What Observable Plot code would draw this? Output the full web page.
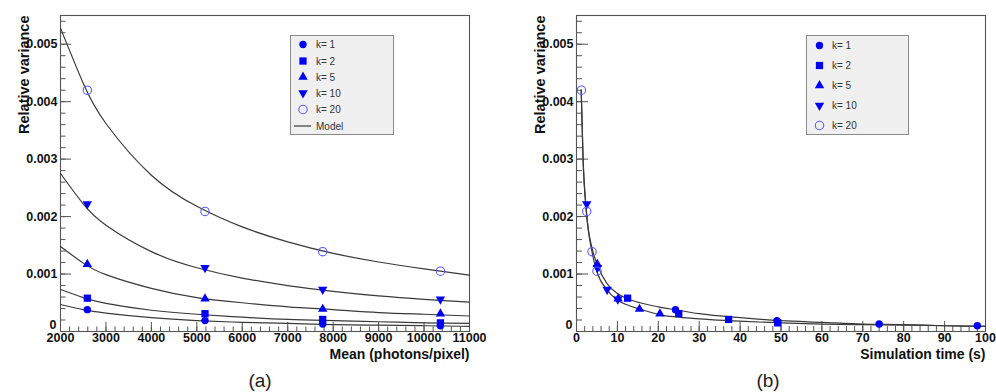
<!DOCTYPE html>
<html><head><meta charset="utf-8">
<script src="https://cdn.jsdelivr.net/npm/d3@7"></script>
<script src="https://cdn.jsdelivr.net/npm/@observablehq/plot@0.6"></script>
<style>
body{margin:0;background:#fff;}
#wrap{position:relative;width:996px;height:392px;overflow:hidden;font-family:"Liberation Sans",Arial,sans-serif;background:#fff;}
#row{display:flex;}
#row > div{width:498px;height:392px;}
.cap{position:absolute;font-size:19px;color:#222;transform:translate(-50%,-50%);line-height:1;}
.legend{position:absolute;}
</style></head>
<body><div id="wrap"><div id="row"><div id="pa"></div><div id="pb"></div></div></div>
<script>
// ---------- data ----------
const kLabels = ["k= 1", "k= 2", "k= 5", "k= 10", "k= 20"];
const meanPhotons = [2590, 5180, 7770, 10360];
const relVarK1  = [0.00038, 0.00019, 0.00013, 0.00010];
const relVarK2  = [0.00058, 0.00031, 0.00021, 0.00015];
const relVarK5  = [0.00117, 0.00057, 0.00039, 0.00031];
const relVarK10 = [0.00222, 0.00111, 0.00073, 0.00056];
const relVarK20 = [0.00420, 0.00209, 0.00139, 0.00105];

const simTimeK1  = [24.2, 49.0, 74.0, 98.0];
const simTimeK2  = [12.5, 25.0, 37.2, 49.2];
const simTimeK5  = [5.1, 10.2, 15.4, 20.4];
const simTimeK10 = [2.5, 5.1, 7.5, 10.1];
const simTimeK20 = [1.2, 2.5, 3.8, 5.0];

// model curves, panel (a)
const modelMeanX = [2000, 2500, 3000, 4000, 5000, 6000, 7000, 8000, 9000, 10000, 11000];
const modelK1  = [0.00047, 0.00038, 0.00032, 0.00024, 0.00019, 0.00016, 0.00014, 0.00012, 0.00011, 0.00010, 0.00009];
const modelK2  = [0.00073, 0.00059, 0.00049, 0.00037, 0.00030, 0.00025, 0.00021, 0.00019, 0.00017, 0.00015, 0.00014];
const modelK5  = [0.00148, 0.00119, 0.00099, 0.00075, 0.00059, 0.00050, 0.00043, 0.00038, 0.00033, 0.00030, 0.00027];
const modelK10 = [0.00275, 0.00222, 0.00185, 0.00139, 0.00111, 0.00093, 0.00080, 0.00070, 0.00062, 0.00056, 0.00051];
const modelK20 = [0.00528, 0.00432, 0.00362, 0.00272, 0.00218, 0.00182, 0.00156, 0.00136, 0.00121, 0.00109, 0.00098];

// model curves, panel (b)
const modelTimeUpperX = [1.15, 1.6, 2.4, 3.8, 5, 7.5, 10, 12.5, 15.5, 20, 24, 30, 40, 50, 60, 70, 80, 90, 100];
const modelTimeUpper  = [0.00420, 0.00305, 0.00210, 0.00145, 0.00118, 0.00083, 0.00066, 0.00057, 0.00050, 0.00043, 0.00038, 0.00031, 0.00024, 0.00019, 0.00016, 0.00013, 0.00012, 0.00010, 0.00009];
const modelTimeLowerX = [1.15, 1.6, 2.4, 3.8, 5, 7.5, 10, 12.5, 15.5, 20.4, 25, 30, 37, 50, 60, 70, 80, 90, 100];
const modelTimeLower  = [0.00420, 0.00300, 0.00210, 0.00138, 0.00104, 0.00072, 0.00055, 0.00046, 0.00039, 0.00029, 0.00025, 0.00022, 0.00019, 0.00015, 0.00013, 0.00012, 0.00011, 0.00010, 0.00009];

// ticks
const yTicksMajor = [0, 0.001, 0.002, 0.003, 0.004, 0.005];
const yTicksMinor = d3.range(0, 28).map(i => i * 0.0002);
const xTicksAMajor = [2000, 3000, 4000, 5000, 6000, 7000, 8000, 9000, 10000, 11000];
const xTicksAMinor = d3.range(2000, 11001, 200);
const xTicksBMajor = [0, 10, 20, 30, 40, 50, 60, 70, 80, 90, 100];
const xTicksBMinor = d3.range(0, 101, 2);

// ---------- styles ----------
const BLUE = "#0000f5";
const OPEN = "#5a5aff";
const triangleDown = {draw(ctx, size) {
  const s3 = Math.sqrt(3), y = -Math.sqrt(size / (s3 * 3));
  ctx.moveTo(0, -y * 2); ctx.lineTo(-s3 * y, y); ctx.lineTo(s3 * y, y); ctx.closePath();
}};
const styles = [
  {symbol: d3.symbolCircle, r: 3.7, fill: BLUE, stroke: "none"},
  {symbol: d3.symbolSquare, r: 4.1, fill: BLUE, stroke: "none"},
  {symbol: d3.symbolTriangle, r: 3.5, fill: BLUE, stroke: "none"},
  {symbol: triangleDown, r: 3.5, fill: BLUE, stroke: "none"},
  {symbol: d3.symbolCircle, r: 4.2, fill: "none", stroke: OPEN}
];
const relVars = [relVarK1, relVarK2, relVarK5, relVarK10, relVarK20];
const simTimes = [simTimeK1, simTimeK2, simTimeK5, simTimeK10, simTimeK20];
const modelsA = [modelK1, modelK2, modelK5, modelK10, modelK20];

const W = 498, H = 392, MT = 15, MB = 61;
const FH = H - MT - MB;
const FRAME = "#555";
const yFmt = d => d3.format(".3f")(d);

function commonMarks(fw, xMajor, xMinor, xFmt, xTitle, yTickLen, xTickLen) {
  return [
    Plot.tickY(yTicksMinor, {y: d => d, insetRight: fw - yTickLen / 2, stroke: FRAME, strokeWidth: 1}),
    Plot.tickY(yTicksMajor, {y: d => d, insetRight: fw - yTickLen, stroke: FRAME, strokeWidth: 1}),
    Plot.tickX(xMinor, {x: d => d, insetTop: FH - xTickLen / 2, stroke: FRAME, strokeWidth: 1}),
    Plot.tickX(xMajor, {x: d => d, insetTop: FH - xTickLen, stroke: FRAME, strokeWidth: 1}),
    Plot.axisY(yTicksMajor.filter(d => d > 0), {tickSize: 0, tickPadding: 3, tickFormat: yFmt, label: null, fontWeight: "bold", fontSize: 12.5}),
    Plot.axisY([0], {tickSize: 0, tickPadding: 4, dy: -6.5, tickFormat: () => "0", label: null, fontWeight: "bold", fontSize: 12.5}),
    Plot.axisX(xMajor, {tickSize: 0, tickPadding: 2, tickFormat: xFmt, label: null, fontWeight: "bold", fontSize: 12.5}),
    Plot.text(["Relative variance"], {frameAnchor: "top-left", rotate: -90, textAnchor: "end", dx: -42, fontWeight: "bold", fontSize: 14.5, fill: "#111"}),
    Plot.text([xTitle], {frameAnchor: "bottom-right", textAnchor: "end", dy: 27, fontWeight: "bold", fontSize: 14, fill: "#111"}),
    Plot.frame({stroke: FRAME, strokeWidth: 1.1})
  ];
}

function dotMarks(xs) {
  return styles.map((s, i) => Plot.dot(xs[i].map((x, j) => ({x, y: relVars[i][j]})), {
    x: "x", y: "y", symbol: s.symbol, r: s.r, fill: s.fill, stroke: s.stroke, strokeWidth: 1.1
  }));
}

const plotStyle = {fontFamily: "'Liberation Sans', Arial, sans-serif", fontSize: "12.5px", color: "#111", background: "#fff", overflow: "visible"};

// ---------- panel (a) ----------
const fwA = W - 60 - 29;
const plotA = Plot.plot({
  width: W, height: H, marginLeft: 60, marginRight: 29, marginTop: MT, marginBottom: MB,
  style: plotStyle,
  x: {domain: [2000, 11000]},
  y: {domain: [0, 0.0055]},
  marks: [
    ...commonMarks(fwA, xTicksAMajor, xTicksAMinor, d => String(d), "Mean (photons/pixel)", 11, 9),
    ...modelsA.map(m => Plot.line(modelMeanX.map((x, j) => ({x, y: m[j]})), {x: "x", y: "y", stroke: "#3a3a3a", strokeWidth: 1.2, curve: "natural"})),
    ...dotMarks(modelsA.map(() => meanPhotons))
  ]
});
document.getElementById("pa").appendChild(plotA);

// ---------- panel (b) ----------
const fwB = W - 78 - 11;
const plotB = Plot.plot({
  width: W, height: H, marginLeft: 78, marginRight: 11, marginTop: MT, marginBottom: MB,
  style: plotStyle,
  x: {domain: [0, 100]},
  y: {domain: [0, 0.0055]},
  marks: [
    ...commonMarks(fwB, xTicksBMajor, xTicksBMinor, d => String(d), "Simulation time (s)", 12, 10),
    Plot.line(modelTimeUpperX.map((x, j) => ({x, y: modelTimeUpper[j]})), {x: "x", y: "y", stroke: "#3a3a3a", strokeWidth: 1.2, curve: "monotone-x"}),
    Plot.line(modelTimeLowerX.map((x, j) => ({x, y: modelTimeLower[j]})), {x: "x", y: "y", stroke: "#3a3a3a", strokeWidth: 1.2, curve: "monotone-x"}),
    ...dotMarks(simTimes)
  ]
});
document.getElementById("pb").appendChild(plotB);

// ---------- legends ----------
function makeLegend(left, top, w, h, rows, symX, textX, rowY) {
  const svg = d3.create("svg").attr("class", "legend").attr("width", w + 2).attr("height", h + 2)
    .style("left", left + "px").style("top", top + "px");
  svg.append("rect").attr("x", 0.5).attr("y", 0.5).attr("width", w).attr("height", h)
    .attr("fill", "#f0f0f0").attr("stroke", "#8a8a8a").attr("stroke-width", 1);
  rows.forEach((label, i) => {
    const y = rowY[i];
    if (i < styles.length) {
      const s = styles[i];
      svg.append("path").attr("transform", `translate(${symX},${y})`)
        .attr("d", d3.symbol(s.symbol, Math.PI * s.r * s.r)())
        .attr("fill", s.fill).attr("stroke", s.stroke).attr("stroke-width", 1.1);
    } else {
      svg.append("line").attr("x1", symX - 9).attr("x2", symX + 8).attr("y1", y).attr("y2", y)
        .attr("stroke", "#3a3a3a").attr("stroke-width", 1.2);
    }
    svg.append("text").attr("x", textX).attr("y", y).attr("dy", "0.35em")
      .attr("font-size", 10).attr("fill", "#333").attr("font-family", "'Liberation Sans', Arial, sans-serif").text(label);
  });
  document.getElementById("wrap").appendChild(svg.node());
}
makeLegend(290, 35, 103, 99, [...kLabels, "Model"], 13, 26, [9.5, 26, 42, 58, 74.5, 91]);
makeLegend(806, 35, 102, 99, kLabels, 13.5, 26, [10.5, 30.5, 50.5, 70.5, 90.5]);

// ---------- captions ----------
[["(a)", 260], ["(b)", 768]].forEach(([t, x]) => {
  const d = document.createElement("div");
  d.className = "cap"; d.textContent = t;
  d.style.left = x + "px"; d.style.top = "380px";
  document.getElementById("wrap").appendChild(d);
});
</script></body></html>
